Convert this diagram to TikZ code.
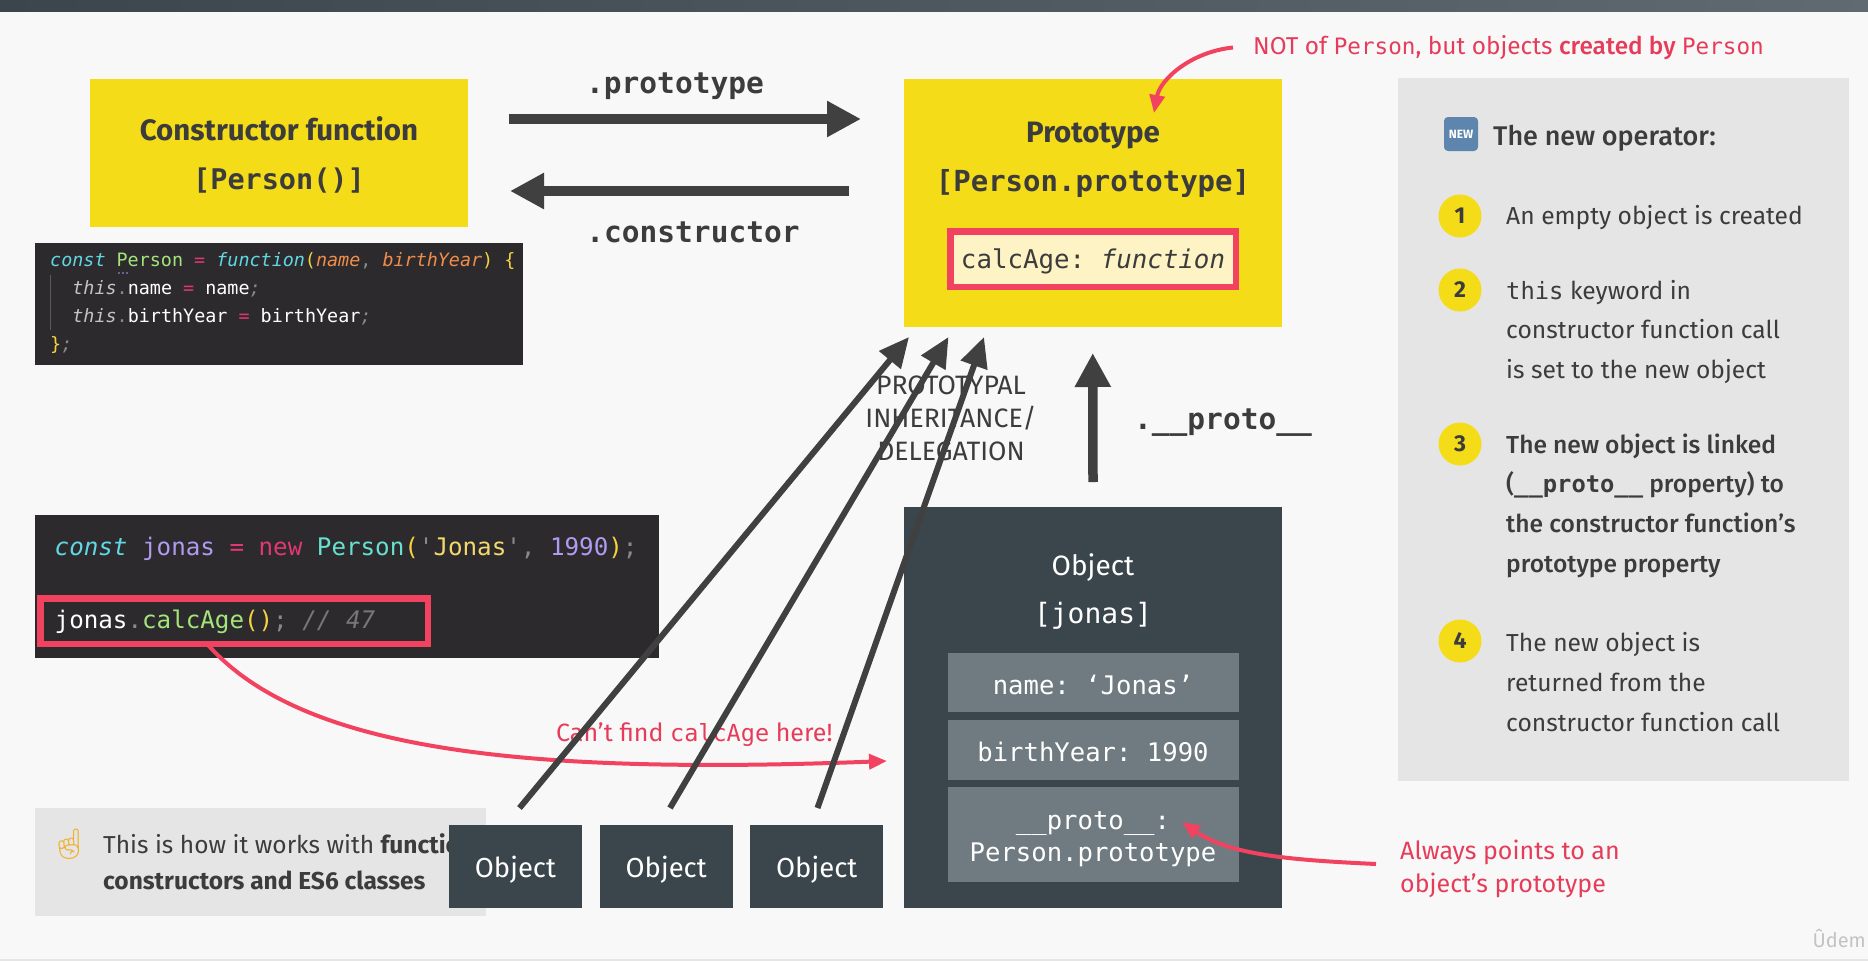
\documentclass[tikz,border=0pt]{standalone}
\usepackage{fontspec}
\usetikzlibrary{arrows.meta, positioning}
\setmainfont{Fira Sans}
\setmonofont{DejaVu Sans Mono}
\newfontfamily\emojifont{Noto Emoji}
\newfontfamily\medfont{Fira Sans Medium}

\definecolor{pagebg}{HTML}{F8F8F8}
\definecolor{panelgray}{HTML}{E5E5E5}
\definecolor{boxyellow}{HTML}{F5DC19}
\definecolor{darkslate}{HTML}{3B454C}
\definecolor{slategray}{HTML}{6F7B80}
\definecolor{arrowgray}{HTML}{404040}
\definecolor{inkgray}{HTML}{3C3C3C}
\definecolor{markred}{HTML}{F1435F}
\definecolor{notered}{HTML}{E63C5A}
\definecolor{creamy}{HTML}{FDF3C4}
\definecolor{newblue}{HTML}{5D85AD}
\definecolor{fingerorange}{HTML}{F2B02E}
\definecolor{codebg}{HTML}{2D2A2E}
\definecolor{ccyan}{HTML}{5FD8E4}
\definecolor{cgreen}{HTML}{A3E57A}
\definecolor{cpink}{HTML}{E0386F}
\definecolor{cyellow}{HTML}{F5D33F}
\definecolor{corange}{HTML}{F08D49}
\definecolor{cgray}{HTML}{8A8A8A}
\definecolor{clight}{HTML}{C4C4C4}
\definecolor{cpurple}{HTML}{AE9CF0}
\definecolor{cteal}{HTML}{66E0CF}
\definecolor{cquote}{HTML}{F3D96B}

\newcommand{\fsz}[2]{\fontsize{#1pt}{#2pt}\selectfont}
\newcommand{\cc}[2]{\textcolor{#1}{#2}}
\newcommand{\ci}[2]{\textcolor{#1}{\itshape #2}}

\tikzset{
  plainbox/.style={rectangle, inner sep=0pt, outer sep=0pt},
  yellowbox/.style={plainbox, fill=boxyellow},
  codebox/.style={plainbox, fill=codebg},
  slatebox/.style={plainbox, fill=darkslate},
  fieldbox/.style={plainbox, fill=slategray, minimum width=291pt},
  fieldtext/.style={text=white, inner sep=0pt, align=center, font=\ttfamily\fsz{25.6}{32}},
  graypanel/.style={plainbox, fill=panelgray},
  markbox/.style={plainbox, draw=markred, line width=6.5pt},
  bigarrow/.style={draw=arrowgray, line width=9.5pt, -{Triangle[length=34pt,width=34pt]}, arrowgray},
  thinarrow/.style={draw=arrowgray, line width=6pt, -{Triangle[length=30pt,width=27pt]}, arrowgray},
  redarrow/.style={draw=markred, line width=4pt, -{Triangle[length=18pt,width=15pt]}, markred},
  monolabel/.style={text=inkgray, font=\ttfamily\bfseries\fsz{29.5}{34}},
  numdot/.style={circle, fill=boxyellow, inner sep=0pt, minimum size=43pt, text=inkgray, font=\bfseries\fsz{23}{26}},
  steptext/.style={anchor=west, align=left, text=inkgray, inner sep=0pt, font=\fsz{24.6}{39.7}},
  redtext/.style={anchor=west, align=left, text=notered, inner sep=0pt, font=\fsz{25}{33}},
}

\begin{document}
\begin{tikzpicture}[x=1pt,y=-1pt]
\useasboundingbox (0,0) rectangle (1868,961);
\fill[pagebg] (0,0) rectangle (1868,961);
\shade[left color=darkslate, right color=slategray!70!darkslate] (0,0) rectangle (1868,11);
\fill[panelgray] (0,959) rectangle (1868,961);

% Yellow boxes
\node[yellowbox, minimum width=378.5pt, minimum height=148pt] (ctorbox) at (278.75,153) {};
\node[text=inkgray, font=\bfseries\fsz{29.5}{34}] (ctortitle) at (279,129) {Constructor function};
\node[text=inkgray, font=\ttfamily\bfseries\fsz{28.5}{34}] (ctorname) at (279,181) {[Person()]};
\node[yellowbox, minimum width=378.5pt, minimum height=248pt] (protobox) at (1092.75,203) {};
\node[text=inkgray, font=\bfseries\fsz{29.5}{34}] (prototitle) at (1093,136) {Prototype};
\node[text=inkgray, font=\ttfamily\bfseries\fsz{29}{34}] (protoname) at (1093,183) {[Person.prototype]};
\node[markbox, minimum width=285.5pt, minimum height=55.5pt, fill=creamy] (calcage) at (1093,259) {};
\node[inner sep=0pt, text=inkgray, font=\ttfamily\fsz{25.8}{30}] (calcagetext) at (1093,261) {calcAge: \textit{function}};

% Code of the constructor
\node[codebox, minimum width=488pt, minimum height=122pt] (codeone) at (279,304) {};
\draw[cgray!50!codebg] (50,275) -- (50,330);
\node[anchor=west, inner sep=0pt, align=left, text=white, font=\ttfamily\fsz{18.4}{27.8}] (codeonetext) at (50,303)
  {\ci{ccyan}{const} \cc{cgreen}{Person} \cc{cpink}{=} \ci{ccyan}{function}\cc{cyellow}{(}\ci{corange}{name}\cc{cgray}{,} \ci{corange}{birthYear}\cc{cyellow}{)} \cc{cyellow}{\{}\\
  \hspace*{22.2pt}\ci{clight}{this}\cc{cgray}{.}name \cc{cpink}{=} name\ci{cgray}{;}\\
  \hspace*{22.2pt}\ci{clight}{this}\cc{cgray}{.}birthYear \cc{cpink}{=} birthYear\ci{cgray}{;}\\
  \cc{cyellow}{\}}\ci{cgray}{;}};
\foreach \x in {119,123,127}
  \fill[cpurple] (\x,273) circle (0.9pt);

% Code of the instance
\node[codebox, minimum width=624pt, minimum height=143pt] (codetwo) at (346.5,586.5) {};
\node[anchor=west, inner sep=0pt, text=white, font=\ttfamily\fsz{24.2}{28}] (codenew) at (54.5,548.5)
  {\ci{ccyan}{const} \cc{cpurple}{jonas} \cc{cpink}{=} \cc{cpink}{new} \cc{cteal}{Person}\cc{cyellow}{(}\cc{cgray}{'}\cc{cquote}{Jonas}\cc{cgray}{',} \cc{cpurple}{1990}\cc{cyellow}{)}\cc{cgray}{;}};
\node[anchor=west, inner sep=0pt, text=white, font=\ttfamily\fsz{24.2}{28}] (codecall) at (54.5,622)
  {jonas\cc{cgray}{.}\cc{cgreen}{calcAge}\cc{cyellow}{()}\cc{cgray}{;} \ci{cgray!80!codebg}{// 47}};
\node[markbox, minimum width=387.5pt, minimum height=45.5pt] (callmark) at (234,621) {};

% Panel with the steps
\node[graypanel, minimum width=451pt, minimum height=703pt] (stepspanel) at (1623.5,429.5) {};
\node[plainbox, rounded corners=4pt, fill=newblue, minimum width=34pt, minimum height=34pt] (newicon) at (1461,134) {};
\node[inner sep=0pt, text=white, font=\bfseries\fsz{12}{14}] (newtext) at (1461,134) {NEW};
\node[anchor=west, inner sep=0pt, text=inkgray, font=\medfont\fsz{27}{33}] (stepstitle) at (1493,138) {The new operator:};
\node[numdot] (dotone) at (1460,216) {1};
\node[numdot] (dottwo) at (1460,290) {2};
\node[numdot] (dotthree) at (1460,444) {3};
\node[numdot] (dotfour) at (1460,641) {4};
\node[steptext] (stepone) at (1506,218) {An empty object is created};
\node[steptext] (steptwo) at (1506,332) {{\ttfamily\fsz{23.8}{39.7}this} keyword in\\constructor function call\\is set to the new object};
\node[steptext, font=\medfont\fsz{24.6}{39.7}] (stepthree) at (1506,505.5) {The new object is linked\\({\ttfamily\bfseries\fsz{23.8}{39.7}\_\_proto\_\_} property) to\\the constructor function’s\\prototype property};
\node[steptext] (stepfour) at (1506,682) {The new object is\\returned from the\\constructor function call};

% Labels of the links
\node[monolabel] (protolabel) at (675,86) {.prototype};
\node[monolabel] (ctorlabel) at (693,232) {.constructor};
\node[monolabel] (dunderlabel) at (1223,423) {.\_\_proto\_\_};
\node[align=center, text=inkgray, font=\fsz{26.6}{33}] (inheritlabel) at (951,418) {PROTOTYPAL\\INHERITANCE/\\DELEGATION};

% Red notes
\node[redtext, font=\fsz{24.4}{33}] (nottext) at (1253,47.5) {NOT of {\ttfamily\fsz{22.6}{33}Person}, but objects {\medfont created by} {\ttfamily\fsz{22.6}{33}Person}};
\node[redtext] (findtext) at (556,734.5) {Can’t find {\ttfamily\fsz{23.5}{33}calcAge} here!};
\node[redtext] (alwaystext) at (1400,869) {Always points to an\\object’s prototype};

% Note at the bottom
\node[graypanel, minimum width=451pt, minimum height=108pt] (notepanel) at (260,862) {};
\node[text=fingerorange, inner sep=0pt, font=\emojifont\bfseries\fsz{30}{32}] (fingericon) at (69,844) {☝};
\node[anchor=west, align=left, inner sep=0pt, text=inkgray, font=\fsz{24.5}{36}] (notetext) at (103,862) {This is how it works with \textbf{function}\\\textbf{constructors and ES6 classes}};

% Object boxes
\node[slatebox, minimum width=133pt, minimum height=83pt] (objone) at (515.5,866.5) {};
\node[slatebox, minimum width=133pt, minimum height=83pt] (objtwo) at (666.25,866.5) {};
\node[slatebox, minimum width=133pt, minimum height=83pt] (objthree) at (816.75,866.5) {};
\node[text=white, font=\fsz{27.5}{30}] (objonetext) at (515.5,870) {Object};
\node[text=white, font=\fsz{27.5}{30}] (objtwotext) at (666.25,870) {Object};
\node[text=white, font=\fsz{27.5}{30}] (objthreetext) at (816.75,870) {Object};

\node[slatebox, minimum width=378pt, minimum height=401pt] (jonasbox) at (1093,707.5) {};
\node[text=white, font=\fsz{28}{33}] (jonastitle) at (1093,568) {Object};
\node[text=white, font=\ttfamily\fsz{28}{33}] (jonasname) at (1093,616) {[jonas]};
\node[fieldbox, minimum height=59pt] (namefield) at (1093,682.5) {};
\node[fieldbox, minimum height=60pt] (yearfield) at (1093,750) {};
\node[fieldbox, minimum height=95pt] (protofield) at (1093,834.5) {};
\node[fieldtext] (nametext) at (1093,685) {name: ‘Jonas’};
\node[fieldtext] (yeartext) at (1093,752) {birthYear: 1990};
\node[fieldtext] (prototext) at (1093,839) {\_\_proto\_\_:\\Person.prototype};

% Named ends of the free arrows
\coordinate (tipone) at (909,337);
\coordinate (tiptwo) at (948.5,337);
\coordinate (tipthree) at (984,337);
\coordinate (tipnote) at (1154,113);
\coordinate (tipfind) at (887,761);
\coordinate (tipalways) at (1182,822);

% Red arrows
\draw[redarrow] ([xshift=-27pt]callmark.south) .. controls (300,750) and (520,775) .. (tipfind);
\draw[redarrow] ([xshift=-20pt]nottext.west) .. controls (1190,52) and (1160,80) .. (tipnote);
\draw[redarrow] ([xshift=-24pt,yshift=5pt]alwaystext.west) .. controls (1290,860) and (1230,855) .. (tipalways);

% Dark arrows
\draw[bigarrow] ([yshift=34pt,xshift=41pt]ctorbox.east) -- ([yshift=84pt,xshift=-42.5pt]protobox.west);
\draw[bigarrow] ([yshift=12pt,xshift=-54.5pt]protobox.west) -- ([yshift=-38pt,xshift=42pt]ctorbox.east);
\draw[bigarrow] ([yshift=25pt]jonasbox.north) -- ([yshift=-26pt]protobox.south);
\draw[thinarrow] ([xshift=4pt,yshift=17pt]objone.north) -- (tipone);
\draw[thinarrow] ([xshift=3.75pt,yshift=17pt]objtwo.north) -- (tiptwo);
\draw[thinarrow] ([xshift=0.75pt,yshift=17pt]objthree.north) -- (tipthree);

\node[anchor=east, inner sep=0pt, text=panelgray!85!black, font=\fsz{20}{24}] (watermark) at (1866,938) {Ûdem};
\end{tikzpicture}
\end{document}
